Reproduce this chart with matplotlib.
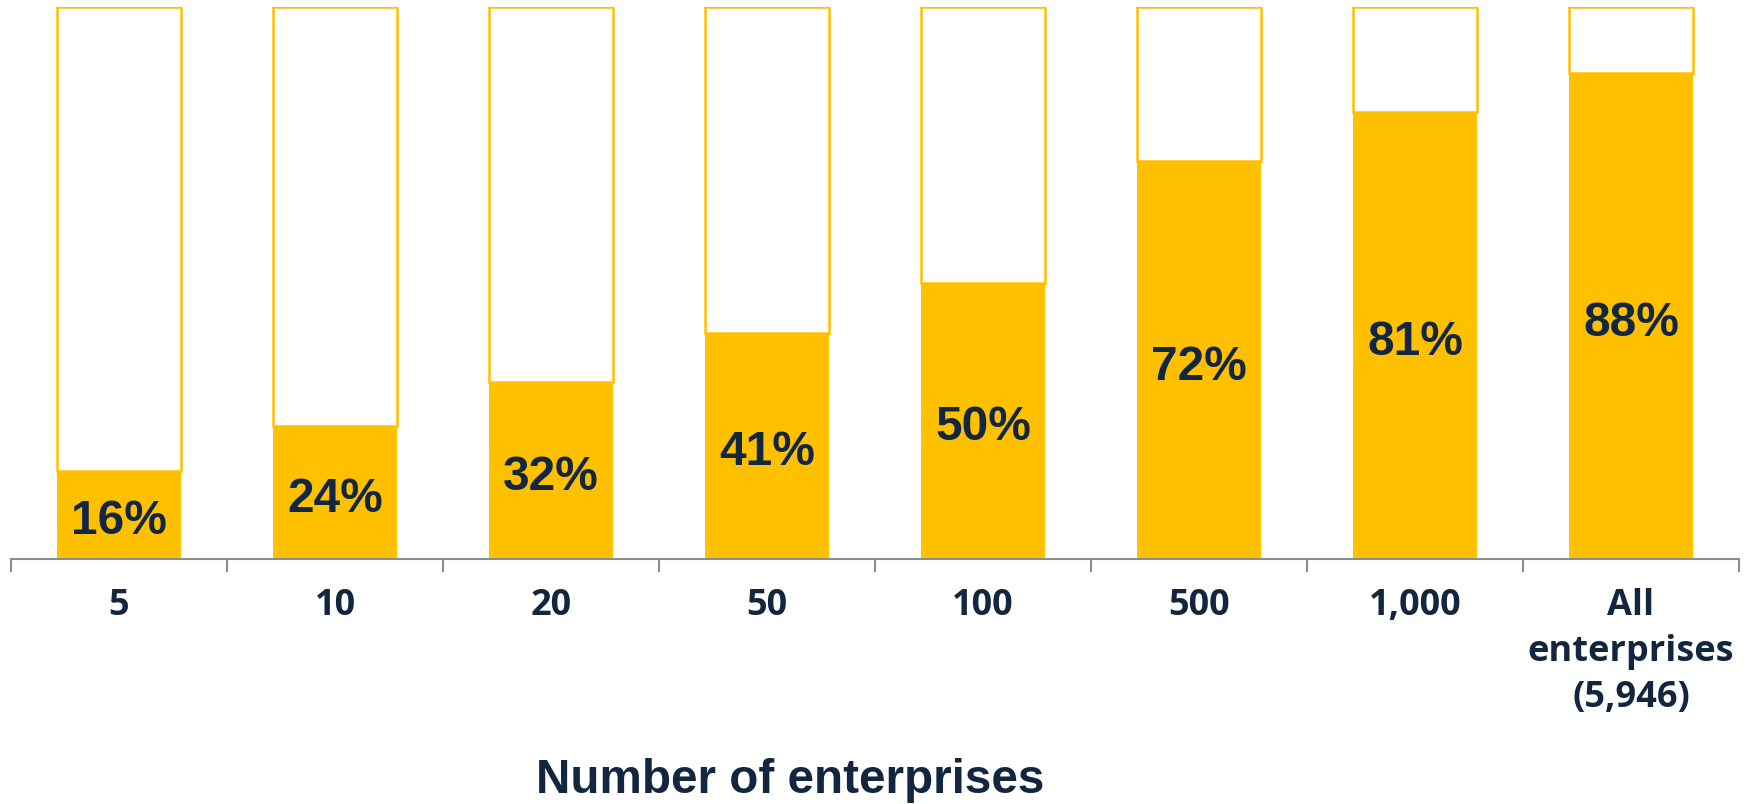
import numpy as np
import matplotlib.pyplot as plt

# data
categories = ['5', '10', '20', '50', '100', '500', '1,000', 'All\nenterprises\n(5,946)']
share = [16, 24, 32, 41, 50, 72, 81, 88]
value_labels = ['16%', '24%', '32%', '41%', '50%', '72%', '81%', '88%']

yellow = '#FFC000'
navy = '#12263F'
grey = '#8C8C8C'

fig = plt.figure(figsize=(17.52, 8.041), dpi=100)
ax = fig.add_axes([11 / 1752, 1 - 559 / 804, 1728 / 1752, 552 / 804])

x = np.arange(len(categories))
share = np.array(share)
width = 0.575

# filled part
ax.bar(x, share, width=width, color=yellow, edgecolor='none', zorder=2)
# remaining part up to 100% as an outlined box
ax.bar(x, 100 - share, bottom=share, width=width, facecolor='white',
       edgecolor=yellow, linewidth=1.8, zorder=1)

for xi, v, lab in zip(x, share, value_labels):
    ax.annotate(lab, (xi, v / 2), xytext=(0, -5), textcoords='offset points',
                ha='center', va='center', fontsize=34.5, fontweight='bold',
                color=navy, family='Liberation Sans', zorder=3)

ax.set_xlim(-0.5, len(categories) - 0.5)
ax.set_ylim(0, 100)

for s in ['top', 'right', 'left']:
    ax.spines[s].set_visible(False)
ax.spines['bottom'].set_color(grey)
ax.spines['bottom'].set_linewidth(1.5)
ax.yaxis.set_visible(False)

ax.set_xticks(x)
ax.set_xticklabels(categories, fontsize=26, fontweight='bold', color=navy,
                   family='Open Sans', linespacing=1.36)
ax.tick_params(axis='x', which='major', length=0, pad=21)
ax.set_xticks(np.arange(-0.5, len(categories)), minor=True)
ax.tick_params(axis='x', which='minor', length=9.5, width=1.5, color=grey,
               direction='out')

fig.text(790 / 1752, 1 - 793 / 804, 'Number of enterprises', ha='center',
         va='baseline', fontsize=34.3, fontweight='bold', color=navy,
         family='Liberation Sans')

fig.savefig('out.png', dpi=100, facecolor='white')
